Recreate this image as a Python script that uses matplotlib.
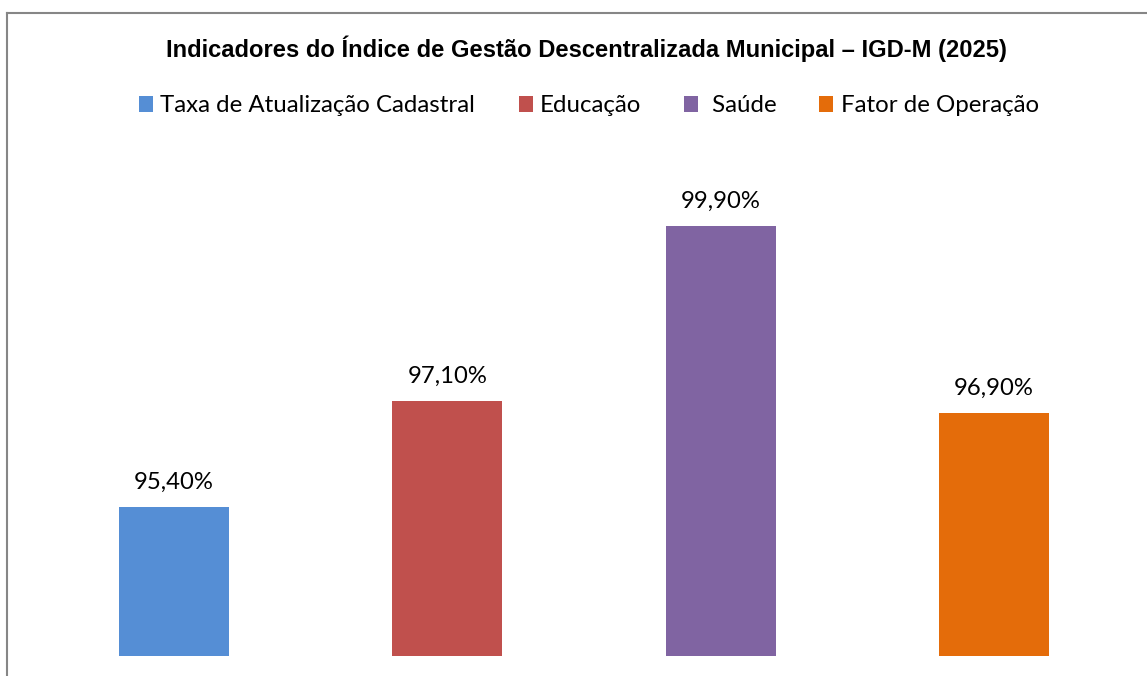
import matplotlib
matplotlib.use("Agg")
import matplotlib.pyplot as plt
from matplotlib.patches import Patch
from matplotlib.lines import Line2D

categories = ["Taxa de Atualização Cadastral", "Educação", " Saúde", "Fator de Operação"]
values = [95.4, 97.1, 99.9, 96.9]
labels = ["95,40%", "97,10%", "99,90%", "96,90%"]
colors = ["#558ED5", "#C0504D", "#8064A2", "#E46C0A"]
title = "Indicadores do Índice de Gestão Descentralizada Municipal – IGD-M (2025)"

W, H = 1147, 676
fig = plt.figure(figsize=(W / 100, H / 100), dpi=100)

# Axes positioned in pixels
left_px, right_px, bottom_px, top_px = 37.3, 1130.7, 656, 189
ax = fig.add_axes([left_px / W, (H - bottom_px) / H, (right_px - left_px) / W, (bottom_px - top_px) / H])

base = 93.0
x = list(range(len(categories)))
ax.bar(x, [v - base for v in values], bottom=base, width=0.4025, color=colors)
ax.set_xlim(-0.5, len(categories) - 0.5)
ax.set_ylim(base, 100.5)
ax.axis("off")

for xi, v, lab in zip(x, values, labels):
    ax.annotate(lab, (xi, v), xytext=(0, 13), textcoords="offset points",
                ha="center", va="baseline", fontsize=17.2, family="Lato", color="#000000")

fig.text(586 / W, 1 - 49 / H, title, ha="center", va="center",
         fontsize=17.1, fontweight="bold", family="Liberation Sans")

handles = [Patch(facecolor=c, edgecolor="none") for c in colors]
leg = fig.legend(handles, categories, loc="center", bbox_to_anchor=(589 / W, 1 - 106 / H),
                 ncol=4, frameon=False, prop={"family": "Lato", "size": 17.3},
                 handlelength=0.58, handleheight=0.6, handletextpad=0.3, columnspacing=1.8)

# Border (top and left only visible)
fig.add_artist(Line2D([7 / W, 1.0], [1 - 13 / H, 1 - 13 / H], transform=fig.transFigure,
                      color="#868686", linewidth=1.5))
fig.add_artist(Line2D([7 / W, 7 / W], [1 - 13 / H, 0.0], transform=fig.transFigure,
                      color="#868686", linewidth=1.5))

fig.savefig("out.png", dpi=100)
